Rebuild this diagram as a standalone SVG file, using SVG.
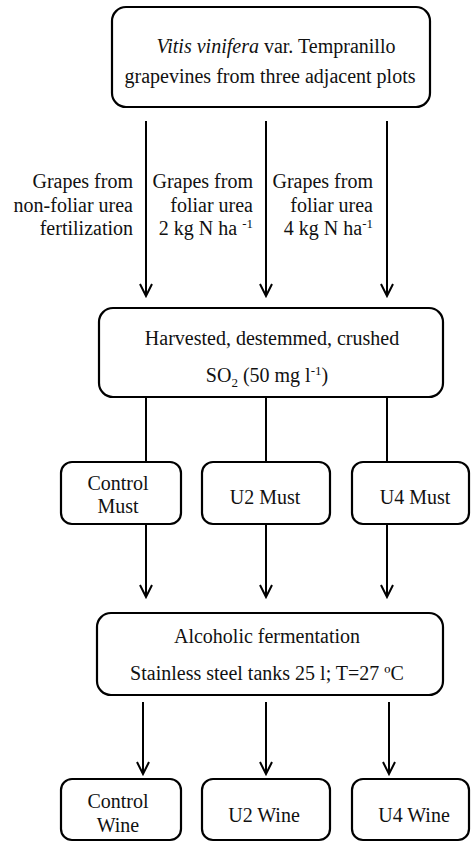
<svg xmlns="http://www.w3.org/2000/svg" width="472" height="842" viewBox="0 0 472 842">
<style>
.box{fill:#fff;stroke:#000;stroke-width:2.2}
text{font-family:"Liberation Serif","Times New Roman",serif;font-size:20px;fill:#111}
.c{text-anchor:middle}
.r{text-anchor:end}
.ln{stroke:#000;stroke-width:2;fill:none}
</style>
<defs>
<marker id="ah" markerUnits="userSpaceOnUse" markerWidth="16" markerHeight="16" viewBox="-14 -8 16 16" refX="0" refY="0" orient="auto">
<path d="M-12,-6 L0,0 L-12,6" fill="none" stroke="#000" stroke-width="2"/>
</marker>
</defs>
<rect width="472" height="842" fill="#fff"/>
<g id="connectors">
<path class="ln" d="M146,121 V296" marker-end="url(#ah)"/>
<path class="ln" d="M266,121 V296" marker-end="url(#ah)"/>
<path class="ln" d="M387,121 V296" marker-end="url(#ah)"/>
<path class="ln" d="M146,397 V462"/>
<path class="ln" d="M266,397 V462"/>
<path class="ln" d="M387,397 V462"/>
<path class="ln" d="M146,524 V597" marker-end="url(#ah)"/>
<path class="ln" d="M266,524 V597" marker-end="url(#ah)"/>
<path class="ln" d="M387,524 V597" marker-end="url(#ah)"/>
<path class="ln" d="M143,702 V774" marker-end="url(#ah)"/>
<path class="ln" d="M266,702 V774" marker-end="url(#ah)"/>
<path class="ln" d="M389,702 V774" marker-end="url(#ah)"/>
</g>
<g id="labels">
<text class="r" x="133" y="188">Grapes from</text>
<text class="r" x="133" y="212">non-foliar urea</text>
<text class="r" x="133" y="235">fertilization</text>
<text class="r" x="253" y="188">Grapes from</text>
<text class="r" x="253" y="212">foliar urea</text>
<text class="r" x="253" y="235">2 kg N ha <tspan font-size="13" dy="-7">-1</tspan></text>
<text class="r" x="373" y="188">Grapes from</text>
<text class="r" x="373" y="212">foliar urea</text>
<text class="r" x="373" y="235">4 kg N ha<tspan font-size="13" dy="-7">-1</tspan></text>
</g>
<g id="n-vines">
<rect class="box" x="112" y="7" width="318" height="100" rx="14"/>
<text class="c" x="276" y="53"><tspan font-style="italic">Vitis vinifera</tspan> var. Tempranillo</text>
<text class="c" x="270" y="83">grapevines from three adjacent plots</text>
</g>
<g id="n-harvest">
<rect class="box" x="99" y="308" width="344" height="89" rx="14"/>
<text class="c" x="272" y="345">Harvested, destemmed, crushed</text>
<text class="c" x="267" y="382">SO<tspan font-size="13" dy="5">2</tspan><tspan dy="-5"> (50 mg l</tspan><tspan font-size="13" dy="-7">-1</tspan><tspan dy="7">)</tspan></text>
</g>
<g id="n-control-must">
<rect class="box" x="61" y="462" width="120" height="62" rx="11"/>
<text class="c" x="118" y="490">Control</text>
<text class="c" x="118" y="513">Must</text>
</g>
<g id="n-u2-must">
<rect class="box" x="202" y="462" width="128" height="62" rx="11"/>
<text class="c" x="265" y="504">U2 Must</text>
</g>
<g id="n-u4-must">
<rect class="box" x="352" y="462" width="117" height="62" rx="11"/>
<text class="c" x="415" y="504">U4 Must</text>
</g>
<g id="n-ferment">
<rect class="box" x="97" y="613" width="346" height="82" rx="14"/>
<text class="c" x="267" y="643">Alcoholic fermentation</text>
<text class="c" x="267" y="680">Stainless steel tanks 25 l; T=27 ºC</text>
</g>
<g id="n-control-wine">
<rect class="box" x="61" y="779" width="120" height="61" rx="11"/>
<text class="c" x="118" y="808">Control</text>
<text class="c" x="118" y="832">Wine</text>
</g>
<g id="n-u2-wine">
<rect class="box" x="202" y="779" width="128" height="61" rx="11"/>
<text class="c" x="264" y="822">U2 Wine</text>
</g>
<g id="n-u4-wine">
<rect class="box" x="352" y="779" width="117" height="61" rx="11"/>
<text class="c" x="414" y="822">U4 Wine</text>
</g>
</svg>
